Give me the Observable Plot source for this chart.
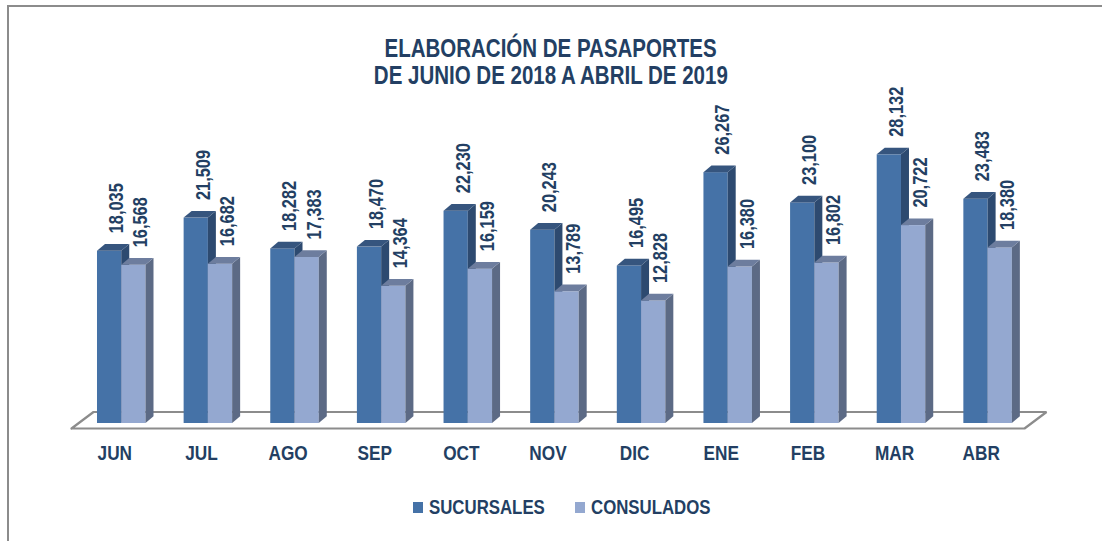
<!DOCTYPE html>
<html>
<head>
<meta charset="utf-8">
<script src="https://cdn.jsdelivr.net/npm/d3@7"></script>
<script src="https://cdn.jsdelivr.net/npm/@observablehq/plot@0.6"></script>
<style>
  html, body { margin: 0; padding: 0; background: #fff; }
  body { width: 1102px; height: 541px; position: relative; overflow: hidden;
         font-family: "Liberation Sans", Arial, sans-serif; }
  #frame { position: absolute; left: 7px; top: 5px; width: 1200px; height: 600px;
           border-top: 2px solid #8c8c8c; border-left: 2px solid #8c8c8c; }
  #title { position: absolute; left: 0; width: 1102px; top: 35px; text-align: center;
           color: #233f63; font-weight: bold; font-size: 25px; line-height: 27px; }
  #title span { display: inline-block; transform: scaleX(0.82); transform-origin: 50% 50%; white-space: nowrap; }
  #chart { position: absolute; left: 0; top: 0; }
  #legend { position: absolute; top: 495px; left: 0; width: 1102px; height: 24px; }
  .item { position: absolute; top: 0; display: flex; align-items: center; color: #233f63;
          font-weight: bold; font-size: 20.5px; white-space: nowrap; }
  .item .lbl { display: inline-block; transform: scaleX(0.82); transform-origin: 0 50%; }
  .sw { width: 10px; height: 11px; margin-right: 6px; display: inline-block; }
</style>
</head>
<body>
<div id="frame"></div>
<div id="title"><span>ELABORACIÓN DE PASAPORTES</span><br><span>DE JUNIO DE 2018 A ABRIL DE 2019</span></div>
<div id="chart"></div>
<div id="legend"></div>
<script>
const months = ["JUN", "JUL", "AGO", "SEP", "OCT", "NOV", "DIC", "ENE", "FEB", "MAR", "ABR"];
const sucursales = [18035, 21509, 18282, 18470, 22230, 20243, 16495, 26267, 23100, 28132, 23483];
const consulados = [16568, 16682, 17383, 14364, 16159, 13789, 12828, 16380, 16802, 20722, 18380];
const seriesNames = ["SUCURSALES", "CONSULADOS"];

const palette = {
  SUCURSALES: {front: "#4572a7", side: "#2d4a70", top: "#36557e"},
  CONSULADOS: {front: "#94a8d0", side: "#5c6a85", top: "#6d7d9e"}
};
const textColor = "#233f63";
const fontFamily = '"Liberation Sans", Arial, sans-serif';

// layout (pixels)
const W = 1102, H = 541;
const plotLeft = 71, plotRight = 1024, baseY = 423, topY = 136.5;
const yMax = 30000;
const pxPerUnitX = (plotRight - plotLeft) / months.length;
const pxPerUnitY = (baseY - topY) / yMax;
const depthX = 8 / pxPerUnitX, depthY = 6.7 / pxPerUnitY;

// bar table
const barSlots = {SUCURSALES: [0.30, 0.58], CONSULADOS: [0.58, 0.86]};
const bars = [];
months.forEach((m, i) => {
  [[seriesNames[0], sucursales[i]], [seriesNames[1], consulados[i]]].forEach(([s, v]) => {
    const [a, b] = barSlots[s];
    bars.push({month: m, series: s, value: v, x1: i + a, x2: i + b, id: m + s});
  });
});

function sidePts(s) {
  return bars.filter(d => d.series === s).flatMap(d => [
    {id: d.id, x: d.x2, y1: 0, y2: d.value},
    {id: d.id, x: d.x2 + depthX, y1: depthY, y2: d.value + depthY}
  ]);
}
function topPts(s) {
  return bars.filter(d => d.series === s).flatMap(d => [
    {id: d.id, y: d.value, x1: d.x1, x2: d.x2},
    {id: d.id, y: d.value + depthY, x1: d.x1 + depthX, x2: d.x2 + depthX}
  ]);
}

// floor parallelogram
const fFront = -5 / pxPerUnitY, fBack = 11.5 / pxPerUnitY, fShift = 22 / pxPerUnitX;
const floor = [
  {x: 0, y: fFront}, {x: months.length, y: fFront},
  {x: months.length + fShift, y: fBack}, {x: fShift, y: fBack}, {x: 0, y: fFront}
];

const marks = [
  Plot.line(floor, {x: "x", y: "y", stroke: "#8c8c8c", strokeWidth: 2.2, strokeLinejoin: "miter"})
];
for (const s of seriesNames) {
  const data = bars.filter(d => d.series === s);
  marks.push(
    Plot.rect(data, {x1: "x1", x2: "x2", y1: 0, y2: "value", fill: palette[s].front}),
    Plot.areaY(sidePts(s), {x: "x", y1: "y1", y2: "y2", z: "id", fill: palette[s].side}),
    Plot.areaX(topPts(s), {y: "y", x1: "x1", x2: "x2", z: "id", fill: palette[s].top})
  );
}
marks.push(
  Plot.text(bars, {
    x: d => (d.x1 + d.x2) / 2, y: "value", text: d => d3.format(",")(d.value),
    rotate: -90, textAnchor: "start", dx: 7, dy: -18,
    fontSize: 20, fontWeight: "bold", fill: textColor
  }),
  Plot.text(months, {
    x: (d, i) => i + 0.5, y: 0, text: d => d, dy: 30,
    fontSize: 21, fontWeight: "bold", fill: textColor
  })
);

const chart = Plot.plot({
  width: W, height: H,
  marginLeft: plotLeft, marginRight: W - plotRight,
  marginTop: topY, marginBottom: H - baseY,
  x: {type: "linear", domain: [0, months.length], axis: null},
  y: {type: "linear", domain: [0, yMax], axis: null},
  style: {fontFamily, background: "transparent", overflow: "visible"},
  marks
});
// narrow the glyphs (Arial Narrow look) along the text direction
chart.querySelectorAll("text").forEach(t => {
  const tr = t.getAttribute("transform") || "";
  t.setAttribute("transform", tr + " scale(0.82,1)");
});
document.getElementById("chart").appendChild(chart);

// legend
const legend = document.getElementById("legend");
const legendX = {SUCURSALES: 413, CONSULADOS: 575};
for (const s of seriesNames) {
  const item = document.createElement("div");
  item.className = "item";
  item.style.left = legendX[s] + "px";
  item.innerHTML = `<span class="sw" style="background:${palette[s].front}"></span><span class="lbl">${s}</span>`;
  legend.appendChild(item);
}
</script>
</body>
</html>
